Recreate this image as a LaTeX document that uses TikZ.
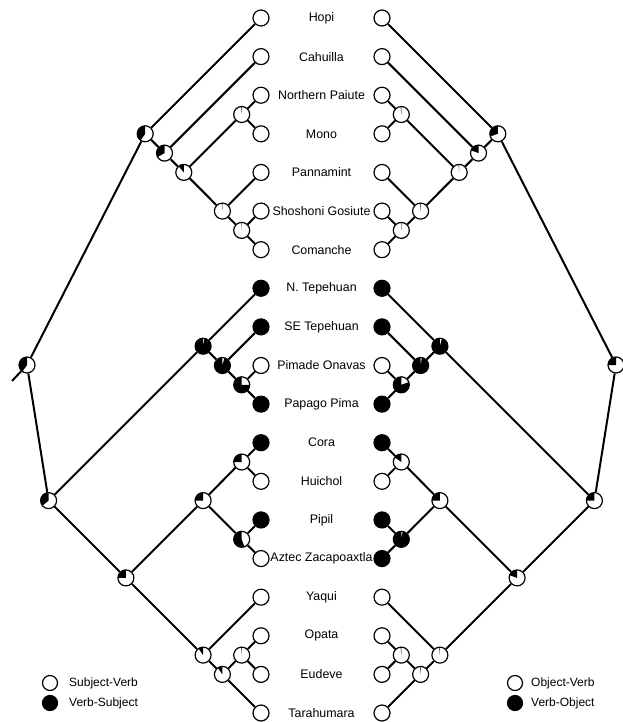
\documentclass[tikz,border=0pt]{standalone}
\usepackage{fontspec}
\setmainfont{Liberation Sans}
\newcommand\pieW[2]{\fill[black] (#1.center) -- ++(90:8pt) arc[start angle=90, delta angle=#2, radius=8pt] -- cycle;}
\begin{document}
\begin{tikzpicture}[x=1pt,y=-1pt,
  nW/.style={circle,draw,line width=1.2pt,fill=white,minimum size=16pt,inner sep=0pt},
  nB/.style={nW,fill=black},
  gW/.style={circle,draw,line width=1.2pt,fill=white,minimum size=15pt,inner sep=0pt},
  gB/.style={gW,fill=black},
  edge/.style={line width=2pt},
  lab/.style={font=\fontsize{12.4}{14}\selectfont, inner sep=0pt},
  leg/.style={font=\fontsize{12}{14}\selectfont, inner sep=0pt, anchor=west}
]
\useasboundingbox (0,0) rectangle (623,722);
% ---------- left leaves
\node[nW] (L0) at (261,18.0) {};
\node[nW] (L1) at (261,56.61) {};
\node[nW] (L2) at (261,95.22) {};
\node[nW] (L3) at (261,133.83) {};
\node[nW] (L4) at (261,172.44) {};
\node[nW] (L5) at (261,211.06) {};
\node[nW] (L6) at (261,249.67) {};
\node[nB] (L7) at (261,288.28) {};
\node[nB] (L8) at (261,326.89) {};
\node[nW] (L9) at (261,365.5) {};
\node[nB] (L10) at (261,404.11) {};
\node[nB] (L11) at (261,442.72) {};
\node[nW] (L12) at (261,481.33) {};
\node[nB] (L13) at (261,519.94) {};
\node[nW] (L14) at (261,558.56) {};
\node[nW] (L15) at (261,597.17) {};
\node[nW] (L16) at (261,635.78) {};
\node[nW] (L17) at (261,674.39) {};
\node[nW] (L18) at (261,713.0) {};
% ---------- right leaves
\node[nW] (R0) at (382,18.0) {};
\node[nW] (R1) at (382,56.61) {};
\node[nW] (R2) at (382,95.22) {};
\node[nW] (R3) at (382,133.83) {};
\node[nW] (R4) at (382,172.44) {};
\node[nW] (R5) at (382,211.06) {};
\node[nW] (R6) at (382,249.67) {};
\node[nB] (R7) at (382,288.28) {};
\node[nB] (R8) at (382,326.89) {};
\node[nW] (R9) at (382,365.5) {};
\node[nB] (R10) at (382,404.11) {};
\node[nB] (R11) at (382,442.72) {};
\node[nW] (R12) at (382,481.33) {};
\node[nB] (R13) at (382,519.94) {};
\node[nB] (R14) at (382,558.56) {};
\node[nW] (R15) at (382,597.17) {};
\node[nW] (R16) at (382,635.78) {};
\node[nW] (R17) at (382,674.39) {};
\node[nW] (R18) at (382,713.0) {};
% ---------- labels
\node[lab] (t0) at (321.5,18.0) {Hopi};
\node[lab] (t1) at (321.5,56.61) {Cahuilla};
\node[lab] (t2) at (321.5,95.22) {Northern Paiute};
\node[lab] (t3) at (321.5,133.83) {Mono};
\node[lab] (t4) at (321.5,172.44) {Pannamint};
\node[lab] (t5) at (321.5,211.06) {Shoshoni Gosiute};
\node[lab] (t6) at (321.5,249.67) {Comanche};
\node[lab] (t7) at (321.5,288.28) {N. Tepehuan};
\node[lab] (t8) at (321.5,326.89) {SE Tepehuan};
\node[lab] (t9) at (321.5,365.5) {Pimade Onavas};
\node[lab] (t10) at (321.5,404.11) {Papago Pima};
\node[lab] (t11) at (321.5,442.72) {Cora};
\node[lab] (t12) at (321.5,481.33) {Huichol};
\node[lab] (t13) at (321.5,519.94) {Pipil};
\node[lab] (t14) at (321.5,558.56) {Aztec Zacapoaxtla};
\node[lab] (t15) at (321.5,597.17) {Yaqui};
\node[lab] (t16) at (321.5,635.78) {Opata};
\node[lab] (t17) at (321.5,674.39) {Eudeve};
\node[lab] (t18) at (321.5,713.0) {Tarahumara};
% ---------- left internal nodes
\node[nW] (La) at (241.7,114.5) {};
\node[nW] (Lb) at (241.7,230.4) {};
\node[nW] (Lc) at (222.4,211.1) {};
\node[nW] (Ld) at (183.8,172.4) {};
\node[nW] (Le) at (164.5,153.1) {};
\node[nW] (Lf) at (145.2,133.8) {};
\node[nW] (Lg) at (241.7,384.8) {};
\node[nW] (Lh) at (222.4,365.5) {};
\node[nW] (Li) at (203.1,346.2) {};
\node[nW] (Lj) at (241.7,462.0) {};
\node[nW] (Lk) at (241.7,539.3) {};
\node[nW] (Ll) at (203.1,500.6) {};
\node[nW] (Lm) at (241.7,655.1) {};
\node[nW] (Ln) at (222.4,674.4) {};
\node[nW] (Lo) at (203.1,655.1) {};
\node[nW] (Lp) at (125.9,577.9) {};
\node[nW] (Lq) at (48.6,500.6) {};
\node[nW] (Lr) at (27,365) {};
\coordinate (Lstub) at (12,381);
% ---------- right internal nodes
\node[nW] (Ra) at (401.3,114.5) {};
\node[nW] (Rb) at (401.3,230.4) {};
\node[nW] (Rc) at (420.6,211.1) {};
\node[nW] (Rd) at (459.2,172.4) {};
\node[nW] (Re) at (478.5,153.1) {};
\node[nW] (Rf) at (497.8,133.8) {};
\node[nW] (Rg) at (401.3,384.8) {};
\node[nW] (Rh) at (420.6,365.5) {};
\node[nW] (Ri) at (439.9,346.2) {};
\node[nW] (Rj) at (401.3,462.0) {};
\node[nW] (Rk) at (401.3,539.3) {};
\node[nW] (Rl) at (439.9,500.6) {};
\node[nW] (Rm) at (401.3,655.1) {};
\node[nW] (Rn) at (420.6,674.4) {};
\node[nW] (Ro) at (439.9,655.1) {};
\node[nW] (Rp) at (517.1,577.9) {};
\node[nW] (Rq) at (594.4,500.6) {};
\node[nW] (Rr) at (616,365) {};
% ---------- pie fills (black share, degrees counterclockwise from top)
\pieW{La}{5}\pieW{Lb}{3}\pieW{Lc}{5}\pieW{Ld}{40}\pieW{Le}{120}\pieW{Lf}{145}
\pieW{Lg}{270}\pieW{Lh}{345}\pieW{Li}{350}\pieW{Lj}{90}\pieW{Lk}{200}\pieW{Ll}{90}
\pieW{Lm}{5}\pieW{Ln}{35}\pieW{Lo}{35}\pieW{Lp}{90}\pieW{Lq}{130}\pieW{Lr}{145}
\pieW{Ra}{5}\pieW{Rb}{3}\pieW{Rc}{5}\pieW{Rd}{5}\pieW{Re}{70}\pieW{Rf}{110}
\pieW{Rg}{290}\pieW{Rh}{350}\pieW{Ri}{345}\pieW{Rj}{55}\pieW{Rk}{350}\pieW{Rl}{90}
\pieW{Rm}{5}\pieW{Rn}{5}\pieW{Ro}{5}\pieW{Rp}{70}\pieW{Rq}{90}\pieW{Rr}{90}
% ---------- left edges
\draw[edge] (La)--(L2) (La)--(L3) (Lb)--(L5) (Lb)--(L6) (Lc)--(L4) (Lc)--(Lb)
  (Ld)--(La) (Ld)--(Lc) (Le)--(L1) (Le)--(Ld) (Lf)--(L0) (Lf)--(Le)
  (Lg)--(L9) (Lg)--(L10) (Lh)--(L8) (Lh)--(Lg) (Li)--(L7) (Li)--(Lh)
  (Lj)--(L11) (Lj)--(L12) (Lk)--(L13) (Lk)--(L14) (Ll)--(Lj) (Ll)--(Lk)
  (Lm)--(L16) (Lm)--(L17) (Ln)--(Lm) (Ln)--(L18) (Lo)--(L15) (Lo)--(Ln)
  (Lp)--(Ll) (Lp)--(Lo) (Lq)--(Li) (Lq)--(Lp) (Lr)--(Lf) (Lr)--(Lq) (Lr)--(Lstub);
% ---------- right edges
\draw[edge] (Ra)--(R2) (Ra)--(R3) (Rb)--(R5) (Rb)--(R6) (Rc)--(R4) (Rc)--(Rb)
  (Rd)--(Ra) (Rd)--(Rc) (Re)--(R1) (Re)--(Rd) (Rf)--(R0) (Rf)--(Re)
  (Rg)--(R9) (Rg)--(R10) (Rh)--(R8) (Rh)--(Rg) (Ri)--(R7) (Ri)--(Rh)
  (Rj)--(R11) (Rj)--(R12) (Rk)--(R13) (Rk)--(R14) (Rl)--(Rj) (Rl)--(Rk)
  (Rm)--(R16) (Rm)--(R17) (Rn)--(Rm) (Rn)--(R18) (Ro)--(R15) (Ro)--(Rn)
  (Rp)--(Rl) (Rp)--(Ro) (Rq)--(Ri) (Rq)--(Rp) (Rr)--(Rf) (Rr)--(Rq);
% ---------- legends
\node[gW] (g1) at (50,683) {};
\node[gB] (g2) at (50,703) {};
\node[leg] (gt1) at (69,683) {Subject-Verb};
\node[leg] (gt2) at (69,703) {Verb-Subject};
\node[gW] (g3) at (515,683) {};
\node[gB] (g4) at (515,703) {};
\node[leg] (gt3) at (531,683) {Object-Verb};
\node[leg] (gt4) at (531,703) {Verb-Object};
\end{tikzpicture}
\end{document}
